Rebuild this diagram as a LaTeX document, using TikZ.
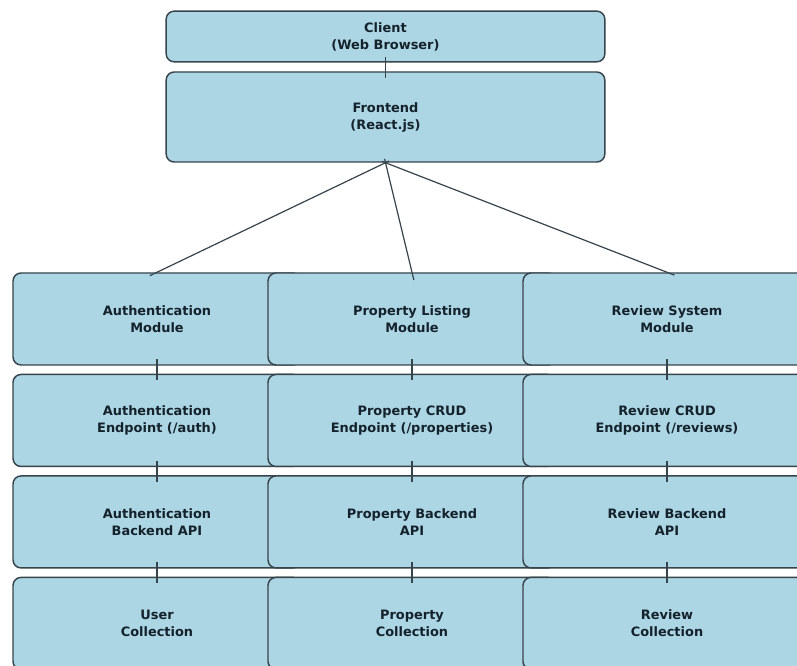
\documentclass[tikz,border=0pt]{standalone}
\usepackage{fontspec}
\setmainfont{DejaVu Sans}
\usepackage{xcolor}
\usepackage{tikz}
\usetikzlibrary{positioning}

\definecolor{boxfill}{HTML}{ADD6E4}
\definecolor{boxline}{HTML}{36444C}
\definecolor{boxtext}{HTML}{14222C}

\begin{document}
\begin{tikzpicture}[x=0.75pt, y=-0.75pt,
    box/.style={draw=boxline, fill=boxfill, line width=1.1pt, rounded corners=6pt,
        align=center, text=boxtext, font=\fontsize{9.7}{12.75}\selectfont\bfseries,
        minimum width=216pt, minimum height=69pt, inner sep=0pt},
    link/.style={draw=boxline, line width=0.9pt}]
    \clip (0,0) rectangle (797,666);
    \fill[white] (0,0) rectangle (797,666);

    % Client và Frontend
    \node[box, minimum width=329pt, minimum height=38pt] (client) at (385.5,36.5) {Client\\(Web Browser)};
    \node[box, minimum width=329pt, minimum height=67.5pt] (front) at (385.5,117) {Frontend\\(React.js)};

    % Cột Authentication
    \node[box] (authmod) at (157,319) {Authentication\\Module};
    \node[box, below=6pt of authmod] (authend) {Authentication\\Endpoint (/auth)};
    \node[box, below=6pt of authend] (authapi) {Authentication\\Backend API};
    \node[box, below=6pt of authapi] (authdb) {User\\Collection};

    % Cột Property
    \node[box] (propmod) at (412,319) {Property Listing\\Module};
    \node[box, below=6pt of propmod] (propend) {Property CRUD\\Endpoint (/properties)};
    \node[box, below=6pt of propend] (propapi) {Property Backend\\API};
    \node[box, below=6pt of propapi] (propdb) {Property\\Collection};

    % Cột Review
    \node[box] (revmod) at (667,319) {Review System\\Module};
    \node[box, below=6pt of revmod] (revend) {Review CRUD\\Endpoint (/reviews)};
    \node[box, below=6pt of revend] (revapi) {Review Backend\\API};
    \node[box, below=6pt of revapi] (revdb) {Review\\Collection};

    % Nối các khối
    \draw[link, shorten <=-4pt, shorten >=-5pt] (client) -- (front);
    \foreach \m in {authmod, propmod, revmod} {
        \draw[link, shorten <=-3pt, shorten >=-6pt] (front.south) -- (\m.north);
    }
    \foreach \c in {auth, prop, rev} {
        \draw[link, shorten <=-5pt, shorten >=-5pt] (\c mod) -- (\c end);
        \draw[link, shorten <=-5pt, shorten >=-5pt] (\c end) -- (\c api);
        \draw[link, shorten <=-5pt, shorten >=-5pt] (\c api) -- (\c db);
    }
\end{tikzpicture}
\end{document}
